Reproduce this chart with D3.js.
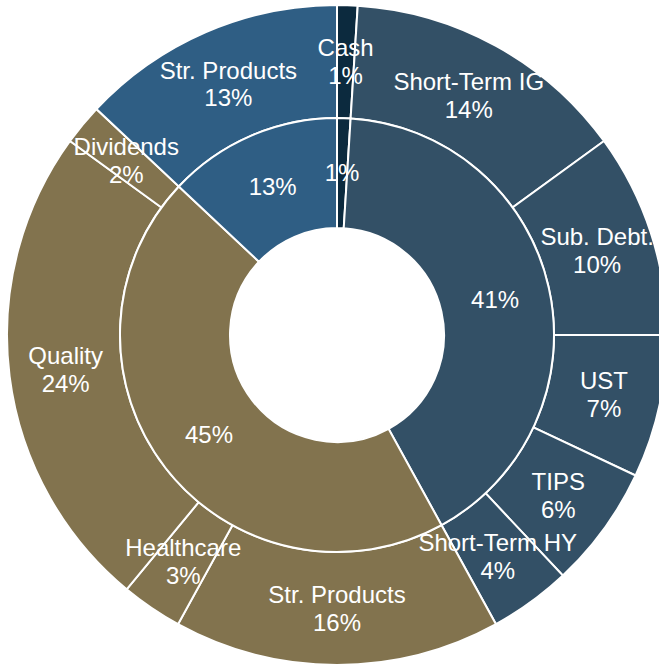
<!DOCTYPE html>
<html>
<head>
<meta charset="utf-8">
<script src="https://cdn.jsdelivr.net/npm/d3@7"></script>
<style>
  html, body { margin: 0; padding: 0; background: #fff; }
  svg { display: block; }
</style>
</head>
<body>
<div id="chart"></div>
<script>
// Anillo interior: grupos
const groups = ["Cash", "Fixed Income", "Equity", "Str. Products"];
const groupValues = [1, 41, 45, 13];
const groupColors = ["#0c2a3e", "#335066", "#82734e", "#2f5e84"];

// Anillo exterior: subcategorías (en el mismo orden)
const subLabels = ["Cash", "Short-Term IG", "Sub. Debt.", "UST", "TIPS", "Short-Term HY",
  "Str. Products", "Healthcare", "Quality", "Dividends", "Str. Products"];
const subValues = [1, 14, 10, 7, 6, 4, 16, 3, 24, 2, 13];
const subGroup = ["Cash", "Fixed Income", "Fixed Income", "Fixed Income", "Fixed Income", "Fixed Income",
  "Equity", "Equity", "Equity", "Equity", "Str. Products"];

function createSunburst() {
    const width = 659;
    const height = 665;
    const cx = 337, cy = 335;
    const r0 = 107, r1 = 217, r2 = 330;
    const font = "'Liberation Sans', Arial, sans-serif";

    const color = d3.scaleOrdinal().domain(groups).range(groupColors);

    const pie = d3.pie().sort(null).value(d => d.value);

    const inner = pie(groups.map((g, i) => ({ key: g, value: groupValues[i] })));
    const outer = pie(subLabels.map((s, i) => ({ key: s, group: subGroup[i], value: subValues[i] })));

    const arcInner = d3.arc().innerRadius(r0).outerRadius(r1);
    const arcOuter = d3.arc().innerRadius(r1).outerRadius(r2);

    const svg = d3.select("#chart").append("svg")
        .attr("width", width)
        .attr("height", height)
        .attr("viewBox", [0, 0, width, height]);

    const g = svg.append("g").attr("transform", `translate(${cx},${cy})`);

    g.append("g").selectAll("path")
        .data(outer)
        .join("path")
        .attr("d", arcOuter)
        .attr("fill", d => color(d.data.group))
        .attr("stroke", "#fff")
        .attr("stroke-width", 2);

    g.append("g").selectAll("path")
        .data(inner)
        .join("path")
        .attr("d", arcInner)
        .attr("fill", d => color(d.data.key))
        .attr("stroke", "#fff")
        .attr("stroke-width", 2);

    const fmt = v => v + "%";

    // Etiquetas exteriores (dos líneas)
    const lo = g.append("g")
        .attr("font-family", font)
        .attr("font-size", 24)
        .attr("fill", "#fff")
        .attr("text-anchor", "middle")
        .selectAll("text")
        .data(outer)
        .join("text")
        .attr("transform", d => `translate(${arcOuter.centroid(d)})`);
    lo.append("tspan").attr("x", 0).attr("dy", "-0.22em").text(d => d.data.key);
    lo.append("tspan").attr("x", 0).attr("dy", "1.15em").text(d => fmt(d.data.value));

    // Etiquetas interiores
    g.append("g")
        .attr("font-family", font)
        .attr("font-size", 24)
        .attr("fill", "#fff")
        .attr("text-anchor", "middle")
        .selectAll("text")
        .data(inner)
        .join("text")
        .attr("transform", d => `translate(${arcInner.centroid(d)})`)
        .attr("dy", "0.35em")
        .text(d => fmt(d.data.value));
}

document.addEventListener("DOMContentLoaded", createSunburst);
</script>
</body>
</html>
